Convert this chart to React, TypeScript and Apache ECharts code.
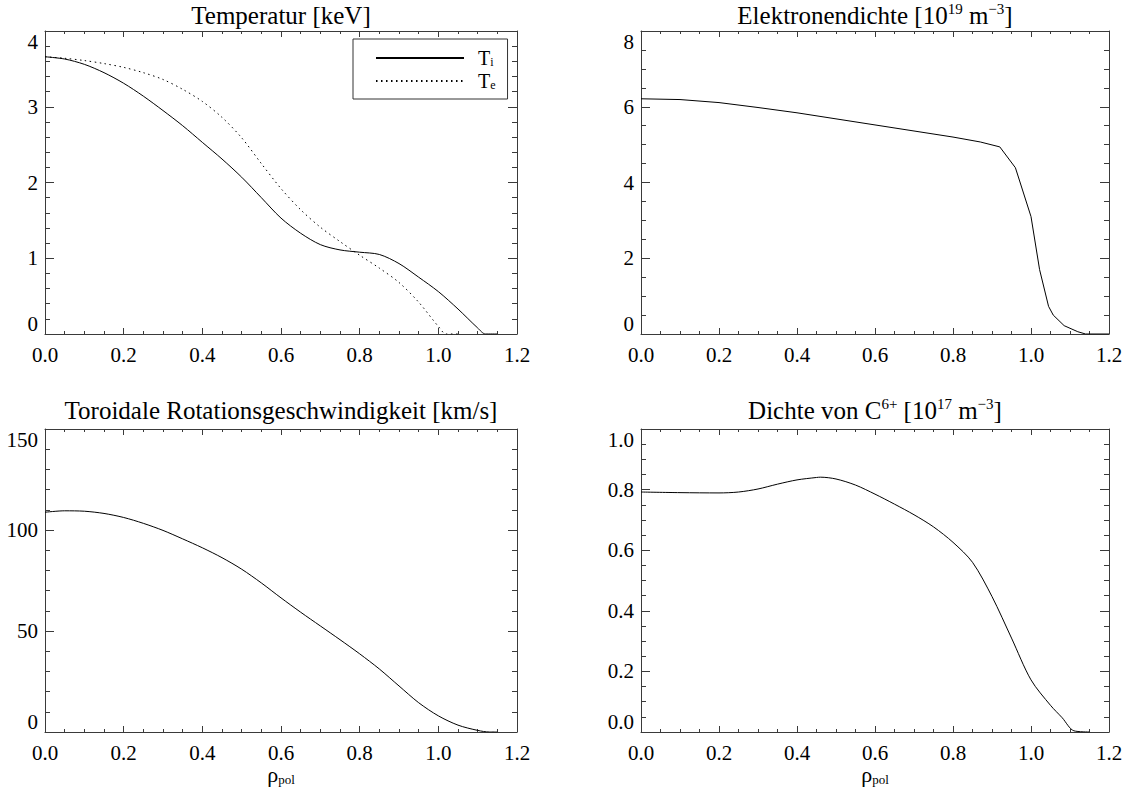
import React, { useEffect, useRef } from "react";
import * as echarts from "echarts";

// ---- data ----
const rhoTemp = [0, 0.05, 0.1, 0.15, 0.2, 0.25, 0.3, 0.35, 0.4, 0.45, 0.5, 0.55, 0.6, 0.65, 0.7, 0.75, 0.8, 0.85, 0.9, 0.95, 1.0, 1.05, 1.1, 1.12, 1.15];
const tiValues = [3.66, 3.63, 3.56, 3.45, 3.31, 3.14, 2.95, 2.75, 2.53, 2.31, 2.07, 1.8, 1.53, 1.33, 1.18, 1.11, 1.08, 1.05, 0.93, 0.75, 0.56, 0.33, 0.08, 0.0, 0.0];
const rhoTe = [0, 0.05, 0.1, 0.15, 0.2, 0.25, 0.3, 0.35, 0.4, 0.45, 0.5, 0.55, 0.6, 0.65, 0.7, 0.75, 0.8, 0.85, 0.9, 0.95, 1.0, 1.02, 1.05];
const teValues = [3.66, 3.64, 3.61, 3.57, 3.52, 3.45, 3.36, 3.23, 3.07, 2.86, 2.59, 2.25, 1.92, 1.64, 1.41, 1.22, 1.04, 0.87, 0.68, 0.42, 0.1, 0.0, 0.0];

const rhoNe = [0, 0.1, 0.2, 0.3, 0.4, 0.5, 0.6, 0.7, 0.8, 0.87, 0.92, 0.96, 1.0, 1.022, 1.045, 1.057, 1.085, 1.12, 1.14, 1.2];
const neValues = [6.21, 6.19, 6.11, 5.98, 5.84, 5.68, 5.52, 5.36, 5.2, 5.07, 4.94, 4.39, 3.1, 1.7, 0.73, 0.5, 0.22, 0.06, 0.0, 0.0];

const rhoVrot = [0, 0.05, 0.1, 0.15, 0.2, 0.25, 0.3, 0.35, 0.4, 0.45, 0.5, 0.55, 0.6, 0.65, 0.7, 0.75, 0.8, 0.85, 0.9, 0.95, 1.0, 1.05, 1.1, 1.13, 1.15];
const vrotValues = [108.8, 109.5, 109.3, 108.2, 106.2, 103.3, 99.8, 95.6, 91.2, 86.3, 80.6, 73.8, 66.4, 59.3, 52.5, 45.7, 38.7, 31.2, 22.8, 14.5, 8, 3.4, 0.8, 0, 0];

const rhoC = [0, 0.1, 0.2, 0.25, 0.3, 0.35, 0.4, 0.45, 0.46, 0.5, 0.55, 0.6, 0.65, 0.7, 0.75, 0.8, 0.85, 0.9, 0.95, 1.0, 1.05, 1.08, 1.11, 1.15];
const cValues = [0.792, 0.79, 0.789, 0.792, 0.802, 0.818, 0.832, 0.84, 0.841, 0.835, 0.815, 0.785, 0.752, 0.717, 0.677, 0.626, 0.56, 0.447, 0.31, 0.172, 0.088, 0.047, 0.004, 0];

const titles = [
  "Temperatur [keV]",
  "Elektronendichte [10{sup|19} m{sup|−3}]",
  "Toroidale Rotationsgeschwindigkeit [km/s]",
  "Dichte von C{sup|6+} [10{sup|17} m{sup|−3}]",
];
const xAxisName = "ρ{sub|pol}";
const legendNames = ["Ti", "Te"];
const legendLabels: Record<string, string> = { Ti: "T{sub|i}", Te: "T{sub|e}" };

// y-axis ranges per panel
const yMins = [0, 0, 0, 0];
const yMaxs = [4, 8, 150, 1.0];
const yIntervals = [1, 2, 50, 0.2];
const yMinorSplits = [5, 4, 5, 4];
const yDecimals = [0, 0, 0, 1];

const FONT = "'Liberation Serif', serif";
const AXIS_COLOR = "#3a3a3a";

const zip = (xs: number[], ys: number[]) => xs.map((x, i) => [x, ys[i]]);

export default function App() {
  const ref = useRef<HTMLDivElement>(null);

  useEffect(() => {
    if (!ref.current) return;
    const chart = echarts.init(ref.current, undefined, { renderer: "svg" });

    const grids = [
      { left: 45, top: 31, width: 472, height: 303 },
      { left: 641, top: 31, width: 468, height: 303 },
      { left: 45, top: 429, width: 472, height: 303 },
      { left: 641, top: 429, width: 468, height: 303 },
    ];

    const richSub = {
      sub: { fontSize: 13, fontFamily: FONT, color: "#000", verticalAlign: "bottom", lineHeight: 12, padding: [7, 0, 0, 0] },
    };

    const xAxes: any[] = [];
    const yAxes: any[] = [];
    grids.forEach((_, i) => {
      const isBottomRow = i >= 2;
      const baseX = {
        gridIndex: i,
        type: "value",
        min: 0,
        max: 1.2,
        interval: 0.2,
        axisLine: { show: true, onZero: false, lineStyle: { color: AXIS_COLOR, width: 1 } },
        axisTick: { show: true, inside: true, length: 6, lineStyle: { color: AXIS_COLOR } },
        minorTick: { show: true, splitNumber: 4, length: 3, lineStyle: { color: AXIS_COLOR } },
        splitLine: { show: false },
        minorSplitLine: { show: false },
      };
      xAxes.push({
        ...baseX,
        position: "bottom",
        axisLabel: {
          show: true,
          margin: 10,
          color: "#000",
          fontFamily: FONT,
          fontSize: 21,
          showMinLabel: true,
          showMaxLabel: true,
          formatter: (v: number) => v.toFixed(1),
        },
        name: isBottomRow ? xAxisName : "",
        nameLocation: "middle",
        nameGap: 31,
        nameTextStyle: {
          color: "#000",
          fontFamily: FONT,
          fontSize: 22,
          rich: richSub,
        },
      });
      xAxes.push({ ...baseX, position: "top", axisLabel: { show: false } });

      const baseY = {
        gridIndex: i,
        type: "value",
        min: yMins[i],
        max: yMaxs[i],
        interval: yIntervals[i],
        axisLine: { show: true, onZero: false, lineStyle: { color: AXIS_COLOR, width: 1 } },
        axisTick: { show: true, inside: true, length: 9, lineStyle: { color: AXIS_COLOR } },
        minorTick: { show: true, splitNumber: yMinorSplits[i], length: 5, lineStyle: { color: AXIS_COLOR } },
        splitLine: { show: false },
        minorSplitLine: { show: false },
      };
      yAxes.push({
        ...baseY,
        position: "left",
        axisLabel: {
          show: true,
          margin: 7,
          color: "#000",
          fontFamily: FONT,
          fontSize: 21,
          showMinLabel: true,
          showMaxLabel: true,
          verticalAlignMinLabel: "bottom",
          verticalAlignMaxLabel: "top",
          formatter: (v: number) => v.toFixed(yDecimals[i]),
        },
      });
      yAxes.push({ ...baseY, position: "right", axisLabel: { show: false } });
    });

    const lineBase = {
      type: "line",
      symbol: "none",
      showSymbol: false,
      clip: true,
      smooth: 0.3,
    };

    const option: any = {
      animation: false,
      backgroundColor: "#ffffff",
      textStyle: { fontFamily: FONT },
      title: titles.map((t, i) => ({
        text: t,
        left: grids[i].left + grids[i].width / 2,
        top: i < 2 ? 1 : 396,
        textAlign: "center",
        padding: 0,
        textStyle: {
          color: "#000",
          fontFamily: FONT,
          fontSize: 25,
          fontWeight: "normal",
          lineHeight: 28,
          rich: {
            sup: { fontSize: 15, fontFamily: FONT, color: "#000", verticalAlign: "top", lineHeight: 15, padding: [0, 0, 8, 0] },
          },
        },
      })),
      legend: {
        data: legendNames,
        orient: "vertical",
        left: 353,
        top: 39,
        itemWidth: 88,
        itemHeight: 14,
        itemGap: 3,
        padding: [9, 12, 8, 22],
        borderColor: "#333",
        borderWidth: 1,
        backgroundColor: "#fff",
        selectedMode: false,
        itemStyle: { opacity: 0, color: "transparent", borderWidth: 0 },
        formatter: (name: string) => legendLabels[name] || name,
        textStyle: {
          color: "#000",
          fontFamily: FONT,
          fontSize: 20,
          lineHeight: 19,
          padding: [0, 0, 0, 9],
          rich: {
            sub: { fontSize: 12, fontFamily: FONT, color: "#000", verticalAlign: "bottom", lineHeight: 12, padding: [6, 0, 0, 0] },
          },
        },
      },
      grid: grids,
      xAxis: xAxes,
      yAxis: yAxes,
      series: [
        {
          ...lineBase,
          name: "Ti",
          xAxisIndex: 0,
          yAxisIndex: 0,
          data: zip(rhoTemp, tiValues),
          lineStyle: { color: "#000", width: 1, type: "solid" },
          itemStyle: { color: "#000" },
        },
        {
          ...lineBase,
          name: "Te",
          xAxisIndex: 0,
          yAxisIndex: 0,
          data: zip(rhoTe, teValues),
          lineStyle: { color: "#000", width: 1, type: [1.5, 3.5] },
          itemStyle: { color: "#000" },
        },
        {
          ...lineBase,
          smooth: false,
          name: "ne",
          xAxisIndex: 2,
          yAxisIndex: 2,
          data: zip(rhoNe, neValues),
          lineStyle: { color: "#000", width: 1 },
        },
        {
          ...lineBase,
          name: "vrot",
          xAxisIndex: 4,
          yAxisIndex: 4,
          data: zip(rhoVrot, vrotValues),
          lineStyle: { color: "#000", width: 1 },
        },
        {
          ...lineBase,
          name: "nC",
          xAxisIndex: 6,
          yAxisIndex: 6,
          data: zip(rhoC, cValues),
          lineStyle: { color: "#000", width: 1 },
        },
      ],
    };

    chart.setOption(option);
    return () => chart.dispose();
  }, []);

  return (
    <div
      ref={ref}
      style={{ position: "fixed", left: 0, top: 0, width: 1135, height: 793, background: "#fff" }}
    />
  );
}
